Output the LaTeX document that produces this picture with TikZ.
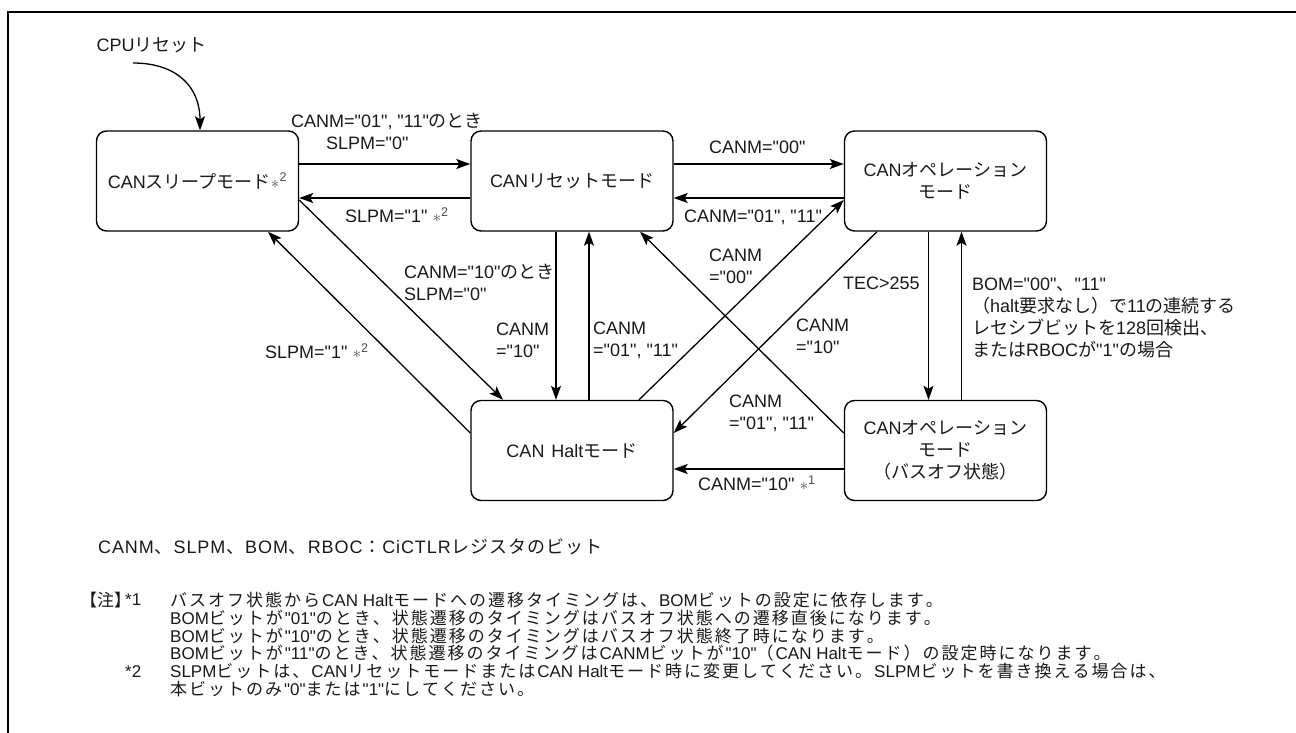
\documentclass[tikz,border=0pt]{standalone}
\usepackage{fontspec}
\newfontfamily\lat{Liberation Sans}
\newfontfamily\jp{Noto Sans CJK JP}
\usetikzlibrary{arrows.meta}
\newdimen\trkamount
\trkamount=0pt
\def\trkloop#1{\ifx\relax#1\else#1\kern\trkamount\expandafter\trkloop\fi}
\newcommand\trk[1]{\trkloop#1\relax}
\newcommand\J[1]{{\jp #1}}
\newcommand\Kt[2]{{\jp\trkamount=#1\relax\trk{#2}}}
\newcommand\K[1]{\Kt{2pt}{#1}}
\newcommand\LG[1]{{\trkamount=0.9pt\relax\trk{#1}}}
\newcommand\LJ[1]{\Kt{0.9pt}{#1}}
\newcommand\noteref[1]{{\color{black!70}$\ast$\textsuperscript{#1}}}
\begin{document}
\begin{tikzpicture}[x=1pt,y=-1pt,
  every node/.style={font=\fontsize{18}{22}\lat, text=black!90},
  box/.style={draw, line width=1.4pt, rounded corners=10pt, minimum width=202pt, minimum height=100pt, inner sep=0pt, align=center},
  lbl/.style={inner sep=0pt, anchor=west, align=left},
  note/.style={inner sep=0pt, anchor=west, align=left, font=\fontsize{17}{18}\lat},
  arr/.style={line width=1.3pt, -{Stealth[length=14pt,width=10pt,inset=3pt]}}]
\useasboundingbox (0,0) rectangle (1296,733);
\draw[line width=2.2pt] (8,733) -- (8,12) -- (1296,12);

% states
\node[box] (sleep) at (197.5,181) {CAN\J{スリープモード}\noteref{2}};
\node[box] (reset) at (572,181) {CAN\J{リセットモード}};
\node[box] (oper) at (945.5,181) {CAN\J{オペレーション}\\\J{モード}};
\node[box] (halt) at (572,450.5) {CAN\hspace{7pt}Halt\J{モード}};
\node[box] (busoff) at (945.5,450.5) {CAN\J{オペレーション}\\\J{モード}\\\J{（バスオフ状態）}};

% CPU reset
\node[inner sep=0pt] (cpu) at (151.7,45) {CPU\J{リセット}};
\coordinate (cpustart) at (133,63);
\draw[arr] (cpustart) .. controls (178,63) and (200,88) .. ([xshift=2.5pt]sleep.north);

% connectors
\draw[arr] ([yshift=17pt]sleep.east) -- ([yshift=17pt]reset.west);
\draw[arr] ([yshift=-17pt]reset.west) -- ([yshift=-17pt]sleep.east);
\draw[arr] ([yshift=17pt]reset.east) -- ([yshift=17pt]oper.west);
\draw[arr] ([yshift=-17pt]oper.west) -- ([yshift=-17pt]reset.east);
\draw[arr] ([xshift=-16pt]reset.south) -- ([xshift=-16pt]halt.north);
\draw[arr] ([xshift=17pt]halt.north) -- ([xshift=17pt]reset.south);
\draw[arr] ([yshift=-19pt]sleep.east) -- ([xshift=-69pt]halt.north);
\draw[arr] ([yshift=17.5pt]halt.west) -- ([xshift=70.5pt]sleep.south);
\draw[arr] ([xshift=67pt]halt.north) -- ([yshift=-19pt]oper.west);
\draw[arr] ([xshift=-68.5pt]oper.south) -- ([yshift=17.5pt]halt.east);
\draw[arr] ([yshift=17.5pt]busoff.west) -- ([xshift=68pt]reset.south);
\draw[arr] ([yshift=-18.5pt]busoff.west) -- ([yshift=-18.5pt]halt.east);
\draw[arr] ([xshift=-17pt]oper.south) -- ([xshift=-17pt]busoff.north);
\draw[arr] ([xshift=16pt]busoff.north) -- ([xshift=16pt]oper.south);

% labels
\node[lbl] (la) at (291,121) {CANM="01", "11"\J{のとき}};
\node[lbl] (lb) at (326,143) {SLPM="0"};
\node[lbl] (lc) at (345,215) {SLPM="1" \noteref{2}};
\node[lbl] (ld) at (709,147) {CANM="00"};
\node[lbl] (le) at (684,217) {CANM="01", "11"};
\node[lbl] (lf) at (496,340) {CANM\\="10"};
\node[lbl] (lg) at (593,340) {CANM\\="01", "11"};
\node[lbl] (lh) at (404,282.5) {CANM="10"\J{のとき}\\SLPM="0"};
\node[lbl] (li) at (709,266) {CANM\\="00"};
\node[lbl] (lj) at (796,336) {CANM\\="10"};
\node[lbl] (lk) at (729,413.5) {CANM\\="01", "11"};
\node[lbl] (ll) at (698,483) {CANM="10" \noteref{1}};
\node[lbl] (lm) at (843,283) {TEC>255};
\node[lbl] (ln) at (972,317.5) {BOM="00"\J{、}"11"\\\J{（}halt\J{要求なし）で}11\J{の連続する}\\\J{レセシブビットを}128\J{回検出、}\\\J{または}RBOC\J{が}"1"\J{の場合}};
\node[lbl] (lo) at (265,351) {SLPM="1" \noteref{2}};

% legend
\node[lbl] (legend) at (98,547) {\LG{CANM}\LJ{、}\LG{SLPM}\LJ{、}\LG{BOM}\LJ{、}\LG{RBOC}\LJ{：}\LG{CiCTLR}\LJ{レジスタのビット}};

% notes
\node[note] (nhead) at (80,600) {\J{【注】}};
\node[note] (n1m) at (125,600) {*1};
\node[note] (n1) at (170,600) {\K{バスオフ状態から}CAN Halt\K{モードへの遷移タイミングは、}BOM\K{ビットの設定に依存します。}};
\node[note] (n2) at (170,617.8) {BOM\K{ビットが}"01"\K{のとき、状態遷移のタイミングはバスオフ状態への遷移直後になります。}};
\node[note] (n3) at (170,635.6) {BOM\K{ビットが}"10"\K{のとき、状態遷移のタイミングはバスオフ状態終了時になります。}};
\node[note] (n4) at (170,653.4) {BOM\K{ビットが}"11"\K{のとき、状態遷移のタイミングは}CANM\K{ビットが}"10"\K{（}CAN Halt\K{モード）の設定時になります。}};
\node[note] (n5m) at (125,671.2) {*2};
\node[note] (n5) at (170,671.2) {SLPM\K{ビットは、}CAN\K{リセットモードまたは}CAN Halt\K{モード時に変更してください。}SLPM\K{ビットを書き換える場合は、}};
\node[note] (n6) at (170,689) {\K{本ビットのみ}"0"\K{または}"1"\K{にしてください。}};
\end{tikzpicture}
\end{document}
